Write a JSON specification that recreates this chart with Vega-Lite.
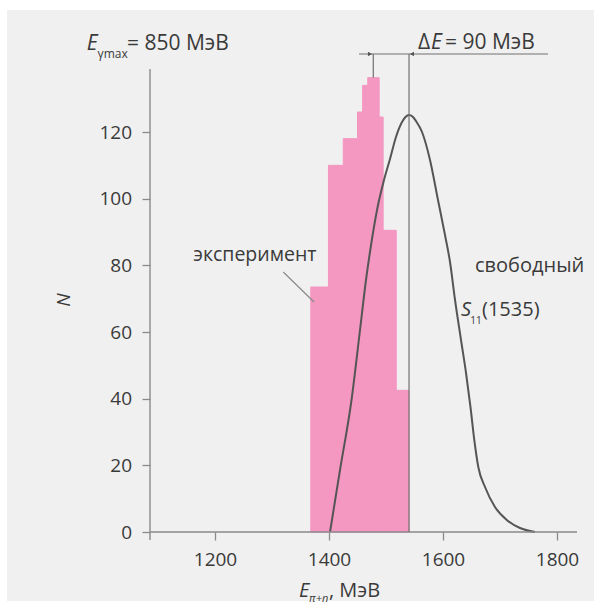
{
  "$schema": "https://vega.github.io/schema/vega-lite/v6.json",
  "width": 587,
  "height": 591,
  "autosize": {"type": "none"},
  "padding": {"left": 7, "top": 10, "right": 7, "bottom": 8},
  "background": "white",
  "config": {"view": {"fill": "#f0f0f0", "stroke": null}},
  "data": {"values": [{}]},
  "datasets": {
    "hist": [
      {"e0": 1368, "e1": 1399, "n": 73.5},
      {"e0": 1399, "e1": 1425, "n": 110},
      {"e0": 1425, "e1": 1450, "n": 118},
      {"e0": 1450, "e1": 1459, "n": 126},
      {"e0": 1459, "e1": 1468, "n": 134},
      {"e0": 1468, "e1": 1488, "n": 136.3},
      {"e0": 1488, "e1": 1495, "n": 124.5},
      {"e0": 1495, "e1": 1518, "n": 90.5},
      {"e0": 1518, "e1": 1540.4, "n": 42.5}
    ],
    "curve": [
      {"e": 1401.8, "n": 0},
      {"e": 1419.3, "n": 18.6},
      {"e": 1439.5, "n": 39.6},
      {"e": 1454.4, "n": 60.6},
      {"e": 1464.9, "n": 75.6},
      {"e": 1471.9, "n": 84.0},
      {"e": 1486.0, "n": 98.1},
      {"e": 1496.5, "n": 105.6},
      {"e": 1507.0, "n": 111.9},
      {"e": 1517.5, "n": 118.5},
      {"e": 1528.1, "n": 123.0},
      {"e": 1534.2, "n": 124.5},
      {"e": 1540.4, "n": 125.1},
      {"e": 1546.5, "n": 124.65},
      {"e": 1552.6, "n": 123.3},
      {"e": 1563.2, "n": 120.0},
      {"e": 1577.2, "n": 111.6},
      {"e": 1591.2, "n": 99.6},
      {"e": 1603.5, "n": 89.1},
      {"e": 1612.3, "n": 81.0},
      {"e": 1621.1, "n": 69.6},
      {"e": 1631.6, "n": 57.6},
      {"e": 1640.4, "n": 47.7},
      {"e": 1648.2, "n": 37.5},
      {"e": 1654.9, "n": 27.6},
      {"e": 1661.9, "n": 19.5},
      {"e": 1673.7, "n": 13.5},
      {"e": 1691.2, "n": 7.5},
      {"e": 1711.8, "n": 3.6},
      {"e": 1735.1, "n": 1.2},
      {"e": 1761.4, "n": 0}
    ]
  },
  "layer": [
    {
      "data": {"name": "hist"},
      "mark": {"type": "rect", "color": "#f498c2", "stroke": "#f498c2", "strokeWidth": 1, "opacity": 1},
      "encoding": {
        "x": {"field": "e0", "type": "quantitative",
          "scale": {"domain": [835.1, 1864.9], "nice": false, "zero": false},
          "axis": {"title": null, "values": [1200, 1400, 1600, 1800], "format": "d", "offset": -69, "domain": false, "grid": false,
            "tickSize": 8, "tickColor": "#8a8a8a", "tickWidth": 1.3,
            "labelFont": "Open Sans", "labelFontSize": 19, "labelColor": "#3a3a3a", "labelPadding": 10.6}},
        "x2": {"field": "e1"},
        "y": {"field": "n", "type": "quantitative",
          "scale": {"domain": [-20.7, 156.6], "nice": false, "zero": false},
          "axis": {"title": null, "values": [0, 20, 40, 60, 80, 100, 120], "format": "d", "offset": -143, "domain": false, "grid": false,
            "tickSize": 8, "tickColor": "#8a8a8a", "tickWidth": 1.3,
            "labelFont": "Open Sans", "labelFontSize": 19, "labelColor": "#3a3a3a", "labelPadding": 10.5}},
        "y2": {"datum": 0}
      }
    },
    {
      "data": {"name": "curve"},
      "mark": {"type": "line", "color": "#555555", "strokeWidth": 2, "interpolate": "monotone"},
      "encoding": {
        "x": {"field": "e", "type": "quantitative", "scale": {"domain": [835.1, 1864.9], "nice": false, "zero": false}},
        "y": {"field": "n", "type": "quantitative", "scale": {"domain": [-20.7, 156.6], "nice": false, "zero": false}}
      }
    },
    {
      "mark": {"type": "rule", "color": "#8a8a8a", "strokeWidth": 1.4},
      "encoding": {"x": {"datum": 1086, "type": "quantitative"}, "y": {"datum": -2.4, "type": "quantitative"}, "y2": {"datum": 138.9}}
    },
    {
      "mark": {"type": "rule", "color": "#8a8a8a", "strokeWidth": 1.4},
      "encoding": {"x": {"datum": 1086, "type": "quantitative"}, "x2": {"datum": 1835.1}, "y": {"datum": 0, "type": "quantitative"}}
    },
    {
      "mark": {"type": "rule", "color": "#707070", "strokeWidth": 1.2},
      "encoding": {"x": {"datum": 1540.4, "type": "quantitative"}, "y": {"datum": 0, "type": "quantitative"}, "y2": {"datum": 143.4}}
    },
    {
      "mark": {"type": "rule", "color": "#707070", "strokeWidth": 1.2},
      "encoding": {"x": {"datum": 1477.7, "type": "quantitative"}, "y": {"datum": 136.3, "type": "quantitative"}, "y2": {"datum": 143.4}}
    },
    {
      "mark": {"type": "rule", "color": "#707070", "strokeWidth": 1.2},
      "encoding": {"x": {"datum": 1452.6, "type": "quantitative"}, "x2": {"datum": 1784.2}, "y": {"datum": 143.4, "type": "quantitative"}}
    },
    {
      "mark": {"type": "point", "shape": "triangle-right", "filled": true, "color": "#555555", "size": 22, "opacity": 1},
      "encoding": {"x": {"datum": 1471.9, "type": "quantitative"}, "y": {"datum": 143.4, "type": "quantitative"}}
    },
    {
      "mark": {"type": "point", "shape": "triangle-left", "filled": true, "color": "#555555", "size": 22, "opacity": 1},
      "encoding": {"x": {"datum": 1545.6, "type": "quantitative"}, "y": {"datum": 143.4, "type": "quantitative"}}
    },
    {
      "mark": {"type": "rule", "color": "#8a8a8a", "strokeWidth": 1.2},
      "encoding": {"x": {"datum": 1319.8, "type": "quantitative"}, "y": {"datum": 78.0, "type": "quantitative"}, "x2": {"datum": 1373.7}, "y2": {"datum": 69.0}}
    },
    {
      "mark": {"type": "text", "text": "E", "font": "Open Sans", "fontSize": 21, "fontStyle": "italic", "align": "left", "baseline": "alphabetic", "color": "#3a3a3a"},
      "encoding": {"x": {"datum": 974.9, "type": "quantitative"}, "y": {"datum": 144.6, "type": "quantitative"}}
    },
    {
      "mark": {"type": "text", "text": "γmax", "font": "Open Sans", "fontSize": 12, "align": "left", "baseline": "alphabetic", "color": "#3a3a3a"},
      "encoding": {"x": {"datum": 994.0, "type": "quantitative"}, "y": {"datum": 142.2, "type": "quantitative"}}
    },
    {
      "mark": {"type": "text", "text": "= 850 МэВ", "font": "Open Sans", "fontSize": 21, "align": "left", "baseline": "alphabetic", "color": "#3a3a3a"},
      "encoding": {"x": {"datum": 1045.6, "type": "quantitative"}, "y": {"datum": 144.6, "type": "quantitative"}}
    },
    {
      "mark": {"type": "text", "text": "Δ", "font": "Open Sans", "fontSize": 21, "align": "left", "baseline": "alphabetic", "color": "#3a3a3a"},
      "encoding": {"x": {"datum": 1556.1, "type": "quantitative"}, "y": {"datum": 144.9, "type": "quantitative"}}
    },
    {
      "mark": {"type": "text", "text": "E", "font": "Open Sans", "fontSize": 21, "fontStyle": "italic", "align": "left", "baseline": "alphabetic", "color": "#3a3a3a"},
      "encoding": {"x": {"datum": 1579.0, "type": "quantitative"}, "y": {"datum": 144.9, "type": "quantitative"}}
    },
    {
      "mark": {"type": "text", "text": "= 90 МэВ", "font": "Open Sans", "fontSize": 21, "align": "left", "baseline": "alphabetic", "color": "#3a3a3a"},
      "encoding": {"x": {"datum": 1603.5, "type": "quantitative"}, "y": {"datum": 144.9, "type": "quantitative"}}
    },
    {
      "mark": {"type": "text", "text": "эксперимент", "font": "Open Sans", "fontSize": 19.5, "align": "left", "baseline": "alphabetic", "color": "#3a3a3a"},
      "encoding": {"x": {"datum": 1161.9, "type": "quantitative"}, "y": {"datum": 81.4, "type": "quantitative"}}
    },
    {
      "mark": {"type": "text", "text": "свободный", "font": "Open Sans", "fontSize": 20, "align": "left", "baseline": "alphabetic", "color": "#3a3a3a"},
      "encoding": {"x": {"datum": 1656.1, "type": "quantitative"}, "y": {"datum": 78.1, "type": "quantitative"}}
    },
    {
      "mark": {"type": "text", "text": "S", "font": "Open Sans", "fontSize": 20, "fontStyle": "italic", "align": "left", "baseline": "alphabetic", "color": "#3a3a3a"},
      "encoding": {"x": {"datum": 1631.6, "type": "quantitative"}, "y": {"datum": 64.8, "type": "quantitative"}}
    },
    {
      "mark": {"type": "text", "text": "11", "font": "Open Sans", "fontSize": 10, "align": "left", "baseline": "alphabetic", "color": "#3a3a3a"},
      "encoding": {"x": {"datum": 1647.7, "type": "quantitative"}, "y": {"datum": 62.4, "type": "quantitative"}}
    },
    {
      "mark": {"type": "text", "text": "(1535)", "font": "Open Sans", "fontSize": 20, "align": "left", "baseline": "alphabetic", "color": "#3a3a3a"},
      "encoding": {"x": {"datum": 1668.4, "type": "quantitative"}, "y": {"datum": 64.8, "type": "quantitative"}}
    },
    {
      "mark": {"type": "text", "text": "E", "font": "Open Sans", "fontSize": 20, "fontStyle": "italic", "align": "left", "baseline": "alphabetic", "color": "#3a3a3a"},
      "encoding": {"x": {"datum": 1347.4, "type": "quantitative"}, "y": {"datum": -19.4, "type": "quantitative"}}
    },
    {
      "mark": {"type": "text", "text": "π+n", "font": "Open Sans", "fontSize": 11, "fontStyle": "italic", "align": "left", "baseline": "alphabetic", "color": "#3a3a3a"},
      "encoding": {"x": {"datum": 1365.0, "type": "quantitative"}, "y": {"datum": -20.9, "type": "quantitative"}}
    },
    {
      "mark": {"type": "text", "text": ", МэВ", "font": "Open Sans", "fontSize": 20, "align": "left", "baseline": "alphabetic", "color": "#3a3a3a"},
      "encoding": {"x": {"datum": 1400.0, "type": "quantitative"}, "y": {"datum": -19.4, "type": "quantitative"}}
    },
    {
      "mark": {"type": "text", "text": "N", "font": "Open Sans", "fontSize": 19, "fontStyle": "italic", "angle": 270, "align": "center", "baseline": "middle", "color": "#3a3a3a"},
      "encoding": {"x": {"datum": 935.1, "type": "quantitative"}, "y": {"datum": 69.6, "type": "quantitative"}}
    }
  ]
}
